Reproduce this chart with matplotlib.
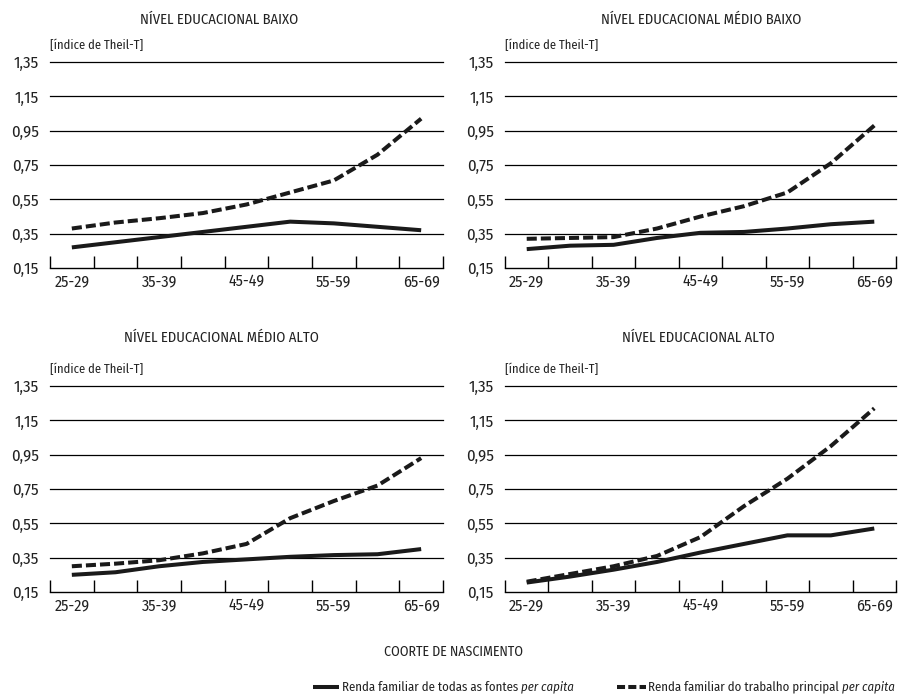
import matplotlib
matplotlib.use('Agg')
import matplotlib.pyplot as plt
from matplotlib import font_manager
from matplotlib.lines import Line2D

# coortes de nascimento (eixo x)
coortes = ['25-29', '30-34', '35-39', '40-44', '45-49', '50-54', '55-59', '60-64', '65-69']
yticks = [0.15, 0.35, 0.55, 0.75, 0.95, 1.15, 1.35]
ytick_labels = ['0,15', '0,35', '0,55', '0,75', '0,95', '1,15', '1,35']

titulos = ['NÍVEL EDUCACIONAL BAIXO', 'NÍVEL EDUCACIONAL MÉDIO BAIXO',
           'NÍVEL EDUCACIONAL MÉDIO ALTO', 'NÍVEL EDUCACIONAL ALTO']

# renda familiar de todas as fontes per capita
baixo_todas = [0.27, 0.30, 0.33, 0.36, 0.39, 0.42, 0.41, 0.39, 0.37]
medio_baixo_todas = [0.26, 0.28, 0.285, 0.325, 0.355, 0.36, 0.38, 0.405, 0.42]
medio_alto_todas = [0.25, 0.265, 0.30, 0.325, 0.34, 0.355, 0.365, 0.37, 0.40]
alto_todas = [0.205, 0.24, 0.28, 0.325, 0.38, 0.43, 0.48, 0.48, 0.52]

# renda familiar do trabalho principal per capita
baixo_trabalho = [0.38, 0.415, 0.44, 0.47, 0.52, 0.59, 0.66, 0.81, 1.02]
medio_baixo_trabalho = [0.32, 0.325, 0.33, 0.38, 0.45, 0.51, 0.59, 0.76, 0.98]
medio_alto_trabalho = [0.30, 0.315, 0.335, 0.375, 0.43, 0.58, 0.68, 0.77, 0.93]
alto_trabalho = [0.21, 0.255, 0.30, 0.36, 0.47, 0.65, 0.81, 1.00, 1.22]

todas = [baixo_todas, medio_baixo_todas, medio_alto_todas, alto_todas]
trabalho = [baixo_trabalho, medio_baixo_trabalho, medio_alto_trabalho, alto_trabalho]

# fonte estreita, se houver
nomes = {f.name for f in font_manager.fontManager.ttflist}
fonte = 'DejaVu Sans'
for fam in ['Fira Sans Condensed', 'Liberation Sans Narrow', 'Liberation Sans']:
    if fam in nomes:
        fonte = fam
        break
plt.rcParams['font.family'] = [fonte, 'DejaVu Sans']
plt.rcParams['text.color'] = '#222222'
plt.rcParams['xtick.labelcolor'] = '#222222'
plt.rcParams['ytick.labelcolor'] = '#222222'

W, H = 898, 695
fig = plt.figure(figsize=(W / 100, H / 100), dpi=100)

# caixas dos paineis em pixels: (esquerda, topo, direita, base)
caixas = [(50, 62, 443, 268), (505, 62, 896, 268),
          (50, 386, 443, 592), (505, 386, 896, 592)]
titulo_pos = [(219, 20), (701, 20), (221, 338), (698, 338)]

cor = '#1a1a1a'
x = list(range(len(coortes)))

for i, (l, t, r, b) in enumerate(caixas):
    ax = fig.add_axes([l / W, 1 - b / H, (r - l) / W, (b - t) / H])
    ax.set_xlim(-0.5, len(coortes) - 0.5)
    ax.set_ylim(0.15, 1.35)
    for s in ['left', 'right', 'top']:
        ax.spines[s].set_visible(False)
    ax.spines['bottom'].set_linewidth(1.0)
    ax.spines['bottom'].set_color('black')

    for y in yticks[1:]:
        ax.axhline(y, color='black', lw=0.9, zorder=1, clip_on=False)

    ax.set_yticks(yticks)
    ax.set_yticklabels(ytick_labels, fontsize=12)
    ax.tick_params(axis='y', length=0, pad=8)

    ax.set_xticks([k - 0.5 for k in range(len(coortes) + 1)])
    ax.set_xticklabels([])
    ax.tick_params(axis='x', which='major', direction='in', length=8.5, width=1.0, color='black')
    ax.set_xticks(x[::2], minor=True)
    ax.set_xticklabels(coortes[::2], minor=True, fontsize=11.5)
    ax.tick_params(axis='x', which='minor', length=0, pad=4)

    ax.plot(x, todas[i], color=cor, lw=2.9, solid_capstyle='butt', zorder=3)
    ax.plot(x, trabalho[i], color=cor, lw=2.9, linestyle=(0, (2.5, 1.0)),
            dash_capstyle='butt', zorder=3)

    tx, ty = titulo_pos[i]
    fig.text(tx / W, 1 - ty / H, titulos[i], ha='center', va='center', fontsize=10.5)
    fig.text(l / W, 1 - (t - 17) / H, '[índice de Theil-T]', ha='left', va='center', fontsize=9)

fig.text(454 / W, 1 - 652 / H, 'COORTE DE NASCIMENTO', ha='center', va='center', fontsize=10)

# legenda feita a mao
yl = 1 - 687 / H
fig.add_artist(Line2D([313 / W, 339 / W], [yl, yl], color=cor, lw=2.9, solid_capstyle='butt'))
fig.add_artist(Line2D([617 / W, 646 / W], [yl, yl], color=cor, lw=2.9,
                      linestyle=(0, (2.0, 0.8)), dash_capstyle='butt'))

fig.canvas.draw()
renderer = fig.canvas.get_renderer()
for x0, txt in [(342, 'Renda familiar de todas as fontes '), (648, 'Renda familiar do trabalho principal ')]:
    t1 = fig.text(x0 / W, yl, txt, ha='left', va='center', fontsize=9.2)
    bb = t1.get_window_extent(renderer)
    fig.text(bb.x1 / W, yl, 'per capita', ha='left', va='center', fontsize=9.2, style='italic')

fig.savefig('out.png', dpi=100)
